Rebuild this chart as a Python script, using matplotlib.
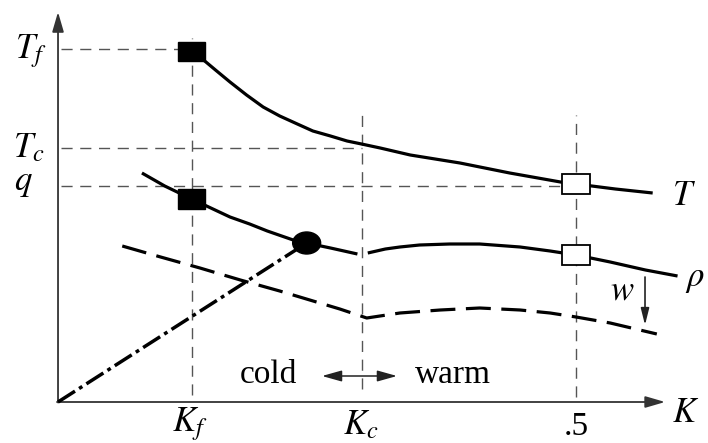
import numpy as np
import matplotlib
matplotlib.use('Agg')
import matplotlib.pyplot as plt
from matplotlib.patches import Rectangle, Ellipse, FancyArrowPatch

plt.rcParams['mathtext.fontset'] = 'stix'
plt.rcParams['font.family'] = ['Liberation Serif', 'DejaVu Serif']

# special K values on the x axis and levels on the y axis
K_f, K_c, K_half = 0.129, 0.293, 0.5
T_f, T_c, q_lev = 3.53, 2.54, 2.16

# T curve
T_k = [0.137, 0.152, 0.166, 0.182, 0.198, 0.214, 0.231, 0.246, 0.263, 0.279,
       0.293, 0.311, 0.340, 0.388, 0.436, 0.485, 0.500, 0.538, 0.574]
T_y = [3.45, 3.32, 3.20, 3.07, 2.95, 2.86, 2.78, 2.71, 2.66, 2.61,
       2.58, 2.54, 2.47, 2.39, 2.29, 2.20, 2.18, 2.13, 2.09]

# rho curve (cold and warm branch)
rho_cold_k = [0.081, 0.103, 0.129, 0.166, 0.185, 0.202, 0.227, 0.240, 0.263, 0.289]
rho_cold_y = [2.29, 2.16, 2.03, 1.85, 1.78, 1.71, 1.62, 1.59, 1.54, 1.48]
rho_warm_k = [0.299, 0.316, 0.330, 0.349, 0.378, 0.407, 0.446, 0.475, 0.500,
              0.533, 0.567, 0.598]
rho_warm_y = [1.49, 1.53, 1.55, 1.57, 1.58, 1.58, 1.55, 1.51, 1.47,
              1.40, 1.32, 1.26]

# w (dashed) curve
w_k = [0.062, 0.099, 0.137, 0.176, 0.214, 0.243, 0.272, 0.298, 0.330, 0.369,
       0.407, 0.446, 0.475, 0.500, 0.533, 0.578]
w_y = [1.56, 1.45, 1.34, 1.22, 1.11, 1.02, 0.93, 0.84, 0.89, 0.92,
       0.94, 0.92, 0.89, 0.85, 0.79, 0.68]

# dash-dot line from origin to the circle
dd_k = [0.0, 0.240]
dd_y = [0.0, 1.59]

# markers
filled_k = [0.129, 0.129]
filled_y = [3.50, 2.03]
open_k = [0.500, 0.500]
open_y = [2.18, 1.47]
circ_k, circ_y = 0.240, 1.59

fig = plt.figure(figsize=(7.08, 4.43), dpi=100)
ax = fig.add_axes([0, 0, 1, 1])
ax.set_xlim(-0.056, 0.6274)
ax.set_ylim(-0.41, 4.02)
ax.axis('off')

grey = '#555555'
gd = (0, (8, 5.5))
# guide lines
ax.plot([K_f, K_f], [0.07, 3.64], color=grey, lw=1.0, ls=gd)
ax.plot([K_c, K_c], [0.13, 2.89], color=grey, lw=1.0, ls=gd)
ax.plot([K_half, K_half], [0.05, 2.87], color=grey, lw=1.0, ls=gd)
ax.plot([0.003, K_f], [T_f, T_f], color=grey, lw=1.0, ls=gd)
ax.plot([0.003, K_c], [T_c, T_c], color=grey, lw=1.0, ls=gd)
ax.plot([0.003, K_half], [q_lev, q_lev], color=grey, lw=1.0, ls=gd)

# axes with arrows
ax.annotate('', xy=(0.0, 3.90), xytext=(0.0, -0.005),
            arrowprops=dict(arrowstyle='-|>,head_length=1.2,head_width=0.35',
                            color='#333333', lw=1.3, shrinkA=0, shrinkB=0))
ax.annotate('', xy=(0.586, 0.0), xytext=(-0.001, 0.0),
            arrowprops=dict(arrowstyle='-|>,head_length=1.2,head_width=0.35',
                            color='#333333', lw=1.3, shrinkA=0, shrinkB=0))

# curves
ax.plot(T_k, T_y, color='black', lw=2.3, solid_capstyle='butt',
        solid_joinstyle='round', zorder=3)
ax.plot(rho_cold_k, rho_cold_y, color='black', lw=2.3, solid_capstyle='butt',
        solid_joinstyle='round', zorder=3)
ax.plot(rho_warm_k, rho_warm_y, color='black', lw=2.3, solid_capstyle='butt',
        solid_joinstyle='round', zorder=3)
ax.plot(w_k, w_y, color='black', lw=2.3, ls=(0, (7.8, 3.3)), zorder=3)
ax.plot(dd_k, dd_y, color='black', lw=2.5, ls=(0, (5.8, 1.4, 1.1, 1.4)), zorder=3)

# markers
sw, sh = 0.026, 0.19
for k, y in zip(filled_k, filled_y):
    ax.add_patch(Rectangle((k - sw / 2, y - sh / 2), sw, sh, fc='black',
                           ec='black', lw=1, zorder=5))
for k, y in zip(open_k, open_y):
    ax.add_patch(Rectangle((k - 0.0135, y - 0.10), 0.027, 0.20, fc='white',
                           ec='black', lw=1.3, zorder=5))
ax.add_patch(Ellipse((circ_k, circ_y), 0.027, 0.22, fc='black', ec='black', zorder=5))

# w arrow
ax.annotate('', xy=(0.5666, 0.77), xytext=(0.5666, 1.25),
            arrowprops=dict(arrowstyle='-|>,head_length=1.0,head_width=0.25',
                            color='#222222', lw=1.2, shrinkA=0, shrinkB=0))

# cold / warm arrow
ax.add_patch(FancyArrowPatch((0.2548, 0.26), (0.3272, 0.26),
                             arrowstyle='<|-|>,head_length=1.0,head_width=0.28',
                             color='#222222', lw=1.1, shrinkA=0, shrinkB=0,
                             mutation_scale=12))
ax.text(0.1757, 0.19, 'cold', fontsize=24, ha='left', va='baseline')
ax.text(0.3446, 0.19, 'warm', fontsize=24, ha='left', va='baseline')

fs = 25
ax.text(-0.0415, 3.44, r'$T_f$', fontsize=fs, ha='left', va='baseline')
ax.text(-0.0435, 2.45, r'$T_c$', fontsize=fs, ha='left', va='baseline')
ax.text(-0.0425, 2.12, r'$q$', fontsize=fs, ha='left', va='baseline')
ax.text(0.110, -0.29, r'$K_f$', fontsize=fs, ha='left', va='baseline')
ax.text(0.2755, -0.32, r'$K_c$', fontsize=fs, ha='left', va='baseline')
ax.text(0.488, -0.33, '.5', fontsize=24, ha='left', va='baseline')
ax.text(0.5927, -0.20, r'$K$', fontsize=fs, ha='left', va='baseline')
ax.text(0.5927, 1.97, r'$T$', fontsize=fs, ha='left', va='baseline')
ax.text(0.605, 1.16, r'$\rho$', fontsize=fs, ha='left', va='baseline')
ax.text(0.533, 1.02, r'$w$', fontsize=fs, ha='left', va='baseline')

fig.savefig('out.png', dpi=100)
